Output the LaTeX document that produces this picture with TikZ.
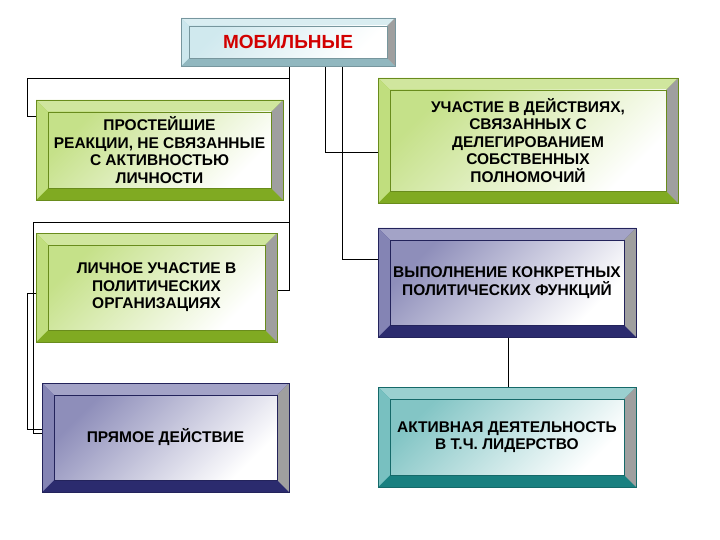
\documentclass[tikz,border=0pt]{standalone}
\usepackage{fontspec}
\setmainfont{Liberation Sans}
\definecolor{grn}{RGB}{150,200,40}
\definecolor{nav}{RGB}{50,50,130}
\definecolor{tea}{RGB}{30,150,150}
\definecolor{cyn}{RGB}{170,215,225}
\definecolor{mred}{RGB}{210,0,0}
\newcommand\bevbox[8]{%
 \fill[#7] (#2,#3) rectangle (#4,#5);
 \fill[#7!45!white] (#2,#3)--(#4,#3)--(#4-#6,#3+#6)--(#2+#6,#3+#6)--cycle;
 \fill[#7!85!black] (#2,#5)--(#4,#5)--(#4-#6,#5-#6)--(#2+#6,#5-#6)--cycle;
 \fill[#7!60!white] (#2,#3)--(#2,#5)--(#2+#6,#5-#6)--(#2+#6,#3+#6)--cycle;
 \fill[gray!75] (#4,#3)--(#4,#5)--(#4-#6,#5-#6)--(#4-#6,#3+#6)--cycle;
 \draw[#7!70!black,line width=0.6pt] (#2,#3) rectangle (#4,#5);
 \node[inner sep=0,outer sep=0,minimum width=#4-#2-2*#6,minimum height=#5-#3-2*#6,
   left color=#7!55!white,right color=white,shading angle=45,draw=#7!70!black,line width=0.4pt,
   align=center,font=\bfseries\fontsize{15.5}{17.5}\selectfont] (#1) at ({(#2+#4)/2},{(#3+#5)/2}) {#8};}
\tikzset{conn/.style={black,line width=0.8pt}}
\begin{document}
\begin{tikzpicture}[x=1pt,y=-1pt]
\useasboundingbox[fill=white] (0,0) rectangle (720,540);
\draw[conn] (289,66)--(289,78)--(27,78)--(27,116)--(36,116);
\draw[conn] (289,78)--(289,222)--(33,222)--(33,433)--(42,433);
\draw[conn] (289,222)--(289,290)--(277,290);
\draw[conn] (36,293)--(27,293)--(27,429)--(42,429);
\draw[conn] (325,66)--(325,152)--(378,152);
\draw[conn] (342,66)--(342,259)--(378,259);
\draw[conn] (508,337)--(508,387);
\bevbox{mob}{181}{18}{395}{66}{8}{cyn}{\fontsize{19}{21}\selectfont\textcolor{mred}{МОБИЛЬНЫЕ}}
\bevbox{a}{36}{100}{283}{200}{12}{grn}{ПРОСТЕЙШИЕ\\РЕАКЦИИ, НЕ СВЯЗАННЫЕ\\С АКТИВНОСТЬЮ\\ЛИЧНОСТИ}
\bevbox{b}{36}{233}{277}{342}{12}{grn}{ЛИЧНОЕ УЧАСТИЕ В\\ПОЛИТИЧЕСКИХ\\ОРГАНИЗАЦИЯХ}
\bevbox{c}{42}{383}{289}{492}{12}{nav}{ПРЯМОЕ ДЕЙСТВИЕ}
\bevbox{d}{378}{78}{678}{203}{12}{grn}{УЧАСТИЕ В ДЕЙСТВИЯХ,\\СВЯЗАННЫХ С\\ДЕЛЕГИРОВАНИЕМ\\СОБСТВЕННЫХ\\ПОЛНОМОЧИЙ}
\bevbox{e}{378}{228}{636}{337}{12}{nav}{ВЫПОЛНЕНИЕ КОНКРЕТНЫХ\\ПОЛИТИЧЕСКИХ ФУНКЦИЙ}
\bevbox{f}{378}{387}{636}{487}{12}{tea}{АКТИВНАЯ ДЕЯТЕЛЬНОСТЬ\\В Т.Ч. ЛИДЕРСТВО}
\end{tikzpicture}
\end{document}
